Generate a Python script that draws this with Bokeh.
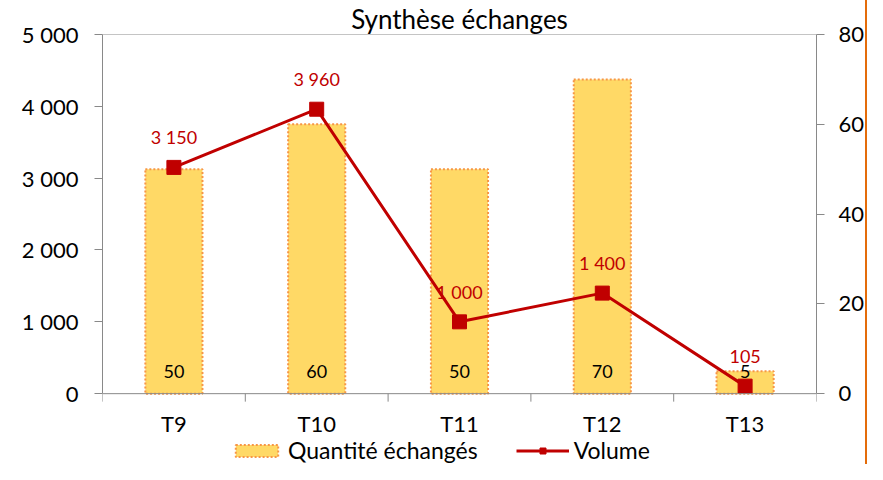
from bokeh.plotting import figure
from bokeh.models import (Range1d, LinearAxis, FixedTicker, Legend, LegendItem,
                          ColumnDataSource, Span)
from bokeh.core.properties import value
from bokeh.embed import file_html
from bokeh.resources import INLINE

categories = ["T9", "T10", "T11", "T12", "T13"]
quantite = [50, 60, 50, 70, 5]
volume = [3150, 3960, 1000, 1400, 105]
volume_labels = ["3 150", "3 960", "1 000", "1 400", "105"]
left_ticks = [0, 1000, 2000, 3000, 4000, 5000]
left_tick_labels = ["0", "1 000", "2 000", "3 000", "4 000", "5 000"]
right_ticks = [0, 20, 40, 60, 80]
LEFT_MAX = 5000
RIGHT_MAX = 80

FONT = "Lato"
GRAY = "#898989"

# layout (pixels)
W, H = 867, 464
TOP, LEFT, RIGHT = 33, 102, 50
PLOT_PX = 360          # pixels from value 0 up to the axis maximum
BELOW_PX = H - TOP - PLOT_PX   # room under the baseline for labels + legend
frac = BELOW_PX / PLOT_PX

xs = [i + 0.5 for i in range(len(categories))]
src = ColumnDataSource(dict(x=xs, q=quantite, v=volume, qlab=[str(q) for q in quantite],
                            vlab=volume_labels, cat=categories))

p = figure(width=W, height=H, x_range=Range1d(0, len(categories)),
           y_range=Range1d(-LEFT_MAX * frac, LEFT_MAX), output_backend="svg",
           toolbar_location=None, x_axis_location=None,
           min_border_left=LEFT, min_border_right=RIGHT, min_border_top=TOP, min_border_bottom=0,
           title="Synthèse échanges")
p.extra_y_ranges = {"q": Range1d(-RIGHT_MAX * frac, RIGHT_MAX)}

p.title.align = "center"
p.title.text_font = FONT
p.title.text_font_size = "26px"
p.title.text_font_style = "normal"
p.title.text_color = "#000000"
p.title.standoff = 0
p.title.offset = -11

p.xgrid.visible = False
p.ygrid.visible = False
p.outline_line_color = None
p.background_fill_color = "white"
p.border_fill_color = "white"

# frame top line and category axis line
p.add_layout(Span(location=LEFT_MAX, dimension="width", line_color=GRAY, line_width=1))
p.add_layout(Span(location=0, dimension="width", line_color=GRAY, line_width=1))
# category boundary ticks (8 px below the baseline)
tick_len = 8 * LEFT_MAX / PLOT_PX
bounds_x = list(range(len(categories) + 1))
p.segment(x0=bounds_x, y0=[0] * len(bounds_x), x1=bounds_x, y1=[-tick_len] * len(bounds_x),
          line_color=GRAY, line_width=1)
# category labels
p.text(x="x", y=0, text="cat", source=src, text_align="center", text_baseline="middle",
       y_offset=30, text_font=value(FONT), text_font_size="22px", text_color="#000000")

# bars on right axis
bars = p.vbar(x="x", top="q", width=0.4, bottom=0, source=src, y_range_name="q",
              fill_color="#FFD966", line_color="#F79646", line_width=2, line_dash="2 2")
p.text(x="x", y=0, text="qlab", source=src, y_range_name="q", text_align="center",
       text_baseline="middle", y_offset=-22, text_font=value(FONT), text_font_size="18px",
       text_color="#000000")

# line on left axis
line = p.line(x="x", y="v", source=src, line_color="#C00000", line_width=3)
marks = p.scatter(x="x", y="v", source=src, marker="square", size=14,
                  fill_color="#C00000", line_color="#C00000")
p.text(x="x", y="v", text="vlab", source=src, text_align="center", text_baseline="middle",
       y_offset=-30, text_font=value(FONT), text_font_size="18px", text_color="#C00000")

def style_axis(ax):
    ax.axis_line_color = GRAY
    ax.major_tick_line_color = GRAY
    ax.minor_tick_line_color = None
    ax.major_label_text_font = FONT
    ax.major_label_text_color = "#000000"
    ax.major_tick_out = 8
    ax.major_tick_in = 0
    ax.major_label_text_font_size = "22px"

yl = p.yaxis[0]
style_axis(yl)
yl.ticker = FixedTicker(ticks=left_ticks)
yl.major_label_overrides = {t: l for t, l in zip(left_ticks, left_tick_labels)}
yl.bounds = (0, LEFT_MAX)
yl.major_label_standoff = 16

yr = LinearAxis(y_range_name="q", ticker=FixedTicker(ticks=right_ticks))
style_axis(yr)
yr.bounds = (0, RIGHT_MAX)
yr.major_label_standoff = 14
p.add_layout(yr, "right")

legend = Legend(items=[LegendItem(label="Quantité échangés", renderers=[bars]),
                       LegendItem(label="Volume", renderers=[line, marks])],
                orientation="horizontal", location=(128, 0))
legend.glyph_width = 53
legend.glyph_height = 15
legend.label_standoff = 5
legend.spacing = 38
legend.padding = 0
legend.margin = 0
legend.border_line_color = None
legend.background_fill_alpha = 0
legend.label_text_font = FONT
legend.label_text_font_size = "23px"
legend.label_text_color = "#000000"
p.add_layout(legend)

p.styles = {"border-right": "2px solid #E46C0A"}

open("out.html", "w").write(file_html(p, INLINE))
